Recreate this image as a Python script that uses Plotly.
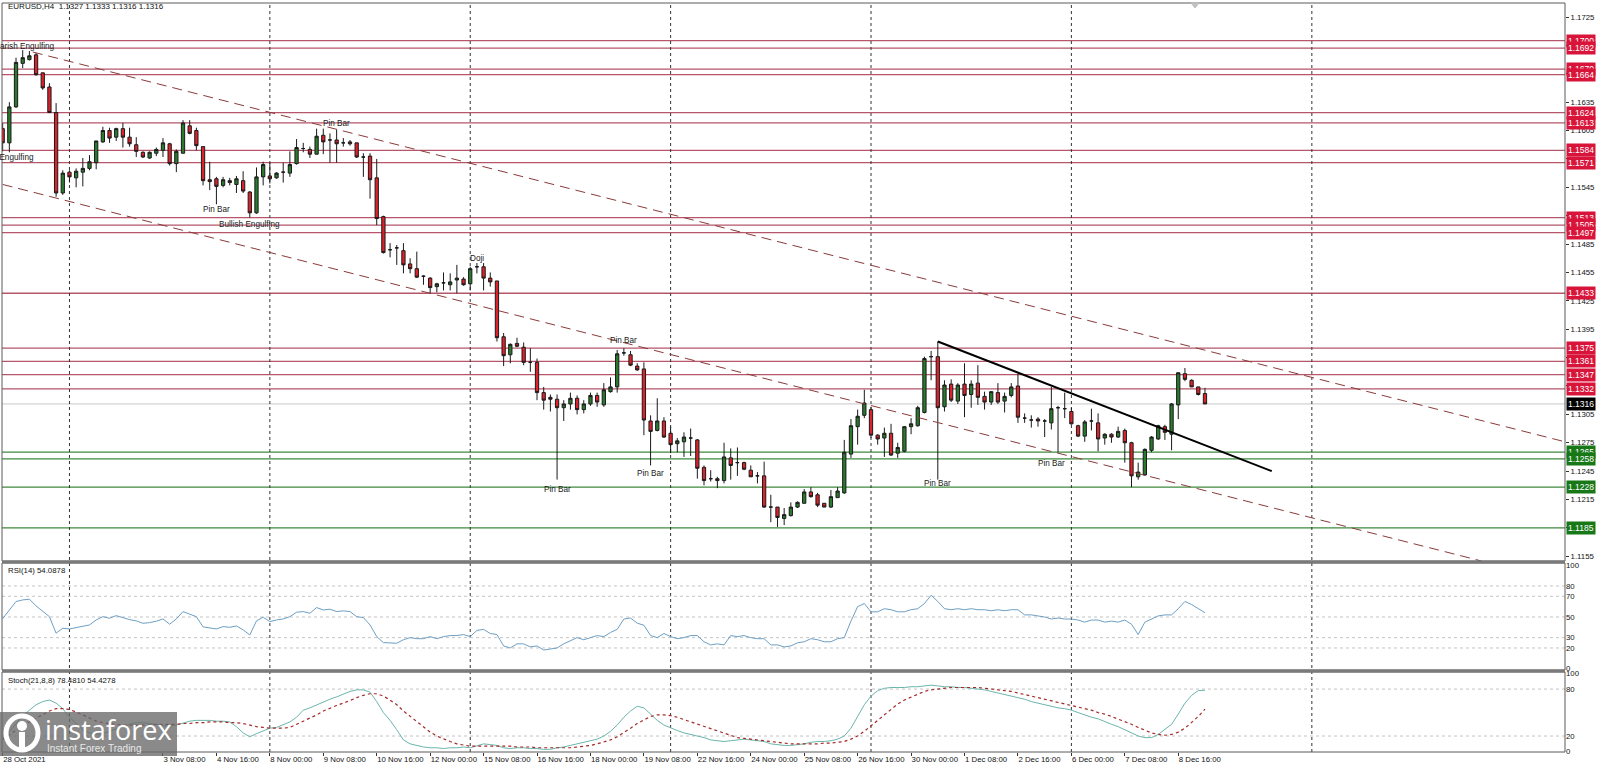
import plotly.graph_objects as go

# ---------------- DATA ----------------
opens = [
1.1607,1.1592,1.1630,1.1676,1.1680,1.1685,1.1666,1.1651,1.1624,1.1539,
1.1561,1.1555,1.1561,1.1565,1.1571,1.1593,1.1605,1.1598,1.1607,1.1598,
1.1590,1.1582,1.1576,1.1581,1.1584,1.1591,1.1570,1.1581,1.1610,1.1605,
1.1588,1.1553,1.1554,1.1547,1.1552,1.1548,1.1552,1.1540,1.1518,1.1556,
1.1557,1.1555,1.1561,1.1560,1.1570,1.1586,1.1585,1.1580,1.1600,1.1595,
1.1595,1.1592,1.1593,1.1592,1.1577,1.1578,1.1555,1.1514,1.1479,1.1481,
1.1478,1.1464,1.1459,1.1451,1.1449,1.1440,1.1444,1.1442,1.1447,1.1448,
1.1443,1.1461,1.1461,1.1449,1.1446,1.1387,1.1368,1.1380,1.1376,1.1360,
1.1360,1.1328,1.1323,1.1321,1.1312,1.1316,1.1322,1.1310,1.1316,1.1325,
1.1315,1.1329,1.1334,1.1370,1.1368,1.1356,1.1353,1.1298,1.1288,1.1298,
1.1285,1.1274,1.1276,1.1280,1.1278,1.1249,1.1237,1.1237,1.1235,1.1259,
1.1254,1.1254,1.1246,1.1240,1.1240,1.1207,1.1207,1.1195,1.1198,1.1207,
1.1211,1.1223,1.1220,1.1211,1.1207,1.1217,1.1222,1.1263,1.1292,1.1304,
1.1310,1.1283,1.1280,1.1285,1.1264,1.1266,1.1292,1.1293,1.1307,1.1366,
1.1366,1.1313,1.1337,1.1319,1.1337,1.1326,1.1338,1.1324,1.1318,1.1328,
1.1319,1.1325,1.1335,1.1301,1.1299,1.1300,1.1298,1.1296,1.1312,1.1311,
1.1308,1.1293,1.1282,1.1298,1.1296,1.1280,1.1284,1.1281,1.1288,1.1275,
1.1239,1.1241,1.1267,1.1279,1.1292,1.1284,1.1315,1.1348,1.1341,1.1334,
1.1327]
highs = [
1.1613,1.1635,1.1682,1.1690,1.1689,1.1687,1.1666,1.1655,1.1634,1.1563,
1.1563,1.1565,1.1576,1.1579,1.1594,1.1609,1.1608,1.1608,1.1613,1.1608,
1.1598,1.1583,1.1583,1.1587,1.1597,1.1592,1.1585,1.1616,1.1616,1.1608,
1.1588,1.1572,1.1556,1.1556,1.1555,1.1557,1.1562,1.1541,1.1566,1.1572,
1.1571,1.1561,1.1571,1.1583,1.1596,1.1592,1.1588,1.1607,1.1607,1.1602,
1.1606,1.1597,1.1595,1.1592,1.1581,1.1581,1.1575,1.1515,1.1486,1.1484,
1.1486,1.1470,1.1477,1.1452,1.1450,1.1444,1.1455,1.1454,1.1463,1.1450,
1.1461,1.1465,1.1465,1.1455,1.1446,1.1391,1.1380,1.1386,1.1381,1.1375,
1.1364,1.1334,1.1326,1.1326,1.1320,1.1328,1.1325,1.1320,1.1328,1.1328,
1.1338,1.1344,1.1373,1.1375,1.1372,1.1359,1.1360,1.1304,1.1322,1.1302,
1.1292,1.1280,1.1286,1.1290,1.1279,1.1251,1.1246,1.1239,1.1275,1.1269,
1.1270,1.1255,1.1251,1.1244,1.1255,1.1220,1.1207,1.1206,1.1212,1.1213,
1.1226,1.1228,1.1222,1.1211,1.1225,1.1228,1.1278,1.1300,1.1310,1.1331,
1.1313,1.1284,1.1291,1.1295,1.1275,1.1292,1.1301,1.1314,1.1366,1.1372,
1.1382,1.1341,1.1342,1.1338,1.1359,1.1341,1.1357,1.1329,1.1329,1.1338,
1.1328,1.1338,1.1348,1.1306,1.1304,1.1302,1.1300,1.1334,1.1314,1.1328,
1.1312,1.1294,1.1299,1.1311,1.1306,1.1285,1.1285,1.1292,1.1290,1.1276,
1.1254,1.1269,1.1282,1.1294,1.1294,1.1317,1.1349,1.1354,1.1342,1.1334,
1.1333]
lows = [
1.1583,1.1582,1.1629,1.1671,1.1679,1.1663,1.1648,1.1624,1.1535,1.1537,
1.1550,1.1545,1.1546,1.1563,1.1564,1.1592,1.1592,1.1594,1.1587,1.1588,
1.1577,1.1576,1.1575,1.1578,1.1577,1.1568,1.1561,1.1581,1.1601,1.1584,
1.1547,1.1542,1.1527,1.1545,1.1547,1.1539,1.1539,1.1513,1.1517,1.1547,
1.1549,1.1554,1.1550,1.1556,1.1569,1.1582,1.1576,1.1580,1.1580,1.1571,
1.1571,1.1588,1.1589,1.1576,1.1556,1.1533,1.1505,1.1475,1.1471,1.1463,
1.1454,1.1454,1.1449,1.1442,1.1433,1.1434,1.1436,1.1436,1.1433,1.1441,
1.1436,1.1454,1.1436,1.1440,1.1382,1.1356,1.1359,1.1376,1.1357,1.1350,
1.1320,1.1310,1.1308,1.1236,1.1298,1.1310,1.1305,1.1306,1.1314,1.1313,
1.1313,1.1328,1.1328,1.1367,1.1356,1.1351,1.1283,1.1251,1.1287,1.1280,
1.1264,1.1265,1.1260,1.1261,1.1237,1.1230,1.1234,1.1227,1.1232,1.1236,
1.1240,1.1246,1.1239,1.1232,1.1206,1.1191,1.1186,1.1188,1.1197,1.1206,
1.1211,1.1217,1.1207,1.1207,1.1206,1.1217,1.1221,1.1259,1.1273,1.1301,
1.1280,1.1273,1.1260,1.1261,1.1259,1.1265,1.1284,1.1292,1.1306,1.1341,
1.1236,1.1308,1.1318,1.1316,1.1302,1.1312,1.1315,1.1310,1.1315,1.1316,
1.1307,1.1323,1.1296,1.1296,1.1291,1.1292,1.1281,1.1289,1.1265,1.1301,
1.1294,1.1281,1.1276,1.1288,1.1266,1.1273,1.1275,1.1280,1.1254,1.1228,
1.1236,1.1240,1.1265,1.1278,1.1278,1.1267,1.1300,1.1340,1.1334,1.1325,
1.1316]
closes = [
1.1592,1.1630,1.1677,1.1682,1.1684,1.1664,1.1650,1.1624,1.1539,1.1560,
1.1556,1.1562,1.1565,1.1572,1.1594,1.1605,1.1597,1.1607,1.1598,1.1591,
1.1583,1.1577,1.1582,1.1585,1.1592,1.1570,1.1583,1.1613,1.1602,1.1589,
1.1552,1.1551,1.1546,1.1553,1.1550,1.1554,1.1541,1.1518,1.1556,1.1569,
1.1554,1.1560,1.1561,1.1569,1.1587,1.1586,1.1580,1.1599,1.1593,1.1595,
1.1591,1.1592,1.1591,1.1577,1.1577,1.1553,1.1512,1.1476,1.1479,1.1481,
1.1463,1.1459,1.1450,1.1451,1.1439,1.1443,1.1444,1.1445,1.1449,1.1442,
1.1459,1.1461,1.1449,1.1445,1.1386,1.1367,1.1379,1.1377,1.1360,1.1360,
1.1328,1.1320,1.1321,1.1312,1.1316,1.1322,1.1310,1.1316,1.1325,1.1318,
1.1331,1.1334,1.1369,1.1370,1.1357,1.1352,1.1299,1.1287,1.1298,1.1281,
1.1273,1.1277,1.1281,1.1280,1.1248,1.1235,1.1237,1.1235,1.1260,1.1251,
1.1254,1.1247,1.1239,1.1240,1.1207,1.1207,1.1196,1.1199,1.1207,1.1212,
1.1223,1.1218,1.1209,1.1207,1.1218,1.1224,1.1265,1.1293,1.1303,1.1317,
1.1283,1.1279,1.1285,1.1262,1.1270,1.1292,1.1295,1.1312,1.1364,1.1366,
1.1312,1.1336,1.1320,1.1336,1.1325,1.1337,1.1323,1.1318,1.1329,1.1318,
1.1324,1.1334,1.1302,1.1301,1.1299,1.1298,1.1298,1.1311,1.1312,1.1311,
1.1295,1.1282,1.1297,1.1298,1.1279,1.1284,1.1281,1.1287,1.1275,1.1240,
1.1244,1.1268,1.1281,1.1293,1.1286,1.1316,1.1349,1.1342,1.1334,1.1326,
1.1316]

rsi = [
48.4,56.8,64.9,66.5,67.2,60.7,55.9,50.3,34.3,39.1,
38.4,39.7,40.7,42.3,47.1,50.3,48.8,51.3,49.4,47.4,
46.2,43.9,44.5,45.9,48.1,43.0,48.1,55.2,52.7,50.3,
40.4,39.7,38.4,40.7,40.0,41.3,37.5,32.6,46.2,49.8,
45.5,47.1,48.1,50.3,54.6,55.2,53.6,59.1,56.8,57.5,
55.2,55.9,55.2,50.3,49.4,42.3,31.0,25.2,25.2,24.6,
28,30,29,29,31,29,31,32,32,33,
31,37,38,34,33,22,20,24,24,21,
22,18,19,20,24,27,30,28,30,32,
31,35,38,48,49,44,42,32,30,34,
31,29,30,32,32,26,23,24,23,32,
31,32,30,29,29,23,23,21,22,25,
26,29,28,26,26,29,30,46,60,63,
55,55,58,57,55,55,57,58,63,71,
65,58,57,58,57,58,57,57,56,57,
56,57,57,52,52,51,50,48,49,48,
48,47,45,47,47,45,46,45,47,43,
33,45,48,51,52,52,58,65,62,58,
54.1]
stoch_k = [
15,25,36,46,53,60,64,66,62,55,
44,36,28,24,22,23,26,30,33,35,
37,37,36,35,33,33,34,37,39,40,
40,40,39,39,38,32,24,19,23,27,
30,31,34,38,44,53,56,60,64,67,
70,74,77,79,79,76,64,50,40,28,
15,10,8,6,5,5,4,5,5,6,
5,8,10,9,8,5,4,5,5,4,
4,3,3,5,6,8,10,12,14,16,
20,26,34,44,52,58,56,48,40,34,
30,27,24,22,20,18,15,14,13,14,
15,16,15,14,13,10,9,8,8,9,
10,12,13,13,14,16,20,30,45,60,
71,78,81,82,82,82,83,83,84,85,
84,83,83,82,82,81,80,79,77,75,
73,71,69,67,64,62,60,58,56,55,
53,50,47,44,42,38,35,32,28,24,
20,18,18,22,28,35,48,62,72,78,
78.5]
stoch_d = [
16,22,28,33,38,43,48,52,55,55,
54,51,47,43,39,37,36,35,34,34,
34,34,34,35,35,35,35,36,36,37,
37,38,38,38,37,37,36,34,32,31,
30,30,30,31,35,38,42,47,52,56,
59,62,66,69,72,74,74,71,66,60,
52,45,38,31,25,20,16,13,10,8,
7,7,7,7,7,7,7,6,6,6,
5,5,5,5,5,5,6,7,8,10,
12,15,19,24,30,36,41,45,47,47,
46,44,41,38,35,32,29,26,23,20,
18,17,16,15,14,13,12,11,10,10,
10,10,10,11,11,12,13,16,20,26,
33,41,48,55,61,66,70,74,77,79,
80,81,82,82,82,82,82,81,80,79,
78,77,75,73,71,69,67,65,63,61,
59,57,55,53,50,48,45,42,39,35,
31,27,24,22,21,22,25,30,38,45,
54.4]

time_tick_bars = [0, 24, 32, 40, 48, 56, 64, 72, 80, 88, 96, 104, 112, 120, 128,
                  136, 144, 152, 160, 168, 176]
time_tick_labels = ["28 Oct 2021", "3 Nov 08:00", "4 Nov 16:00", "8 Nov 00:00", "9 Nov 08:00",
                    "10 Nov 16:00", "12 Nov 00:00", "15 Nov 08:00", "16 Nov 16:00", "18 Nov 00:00",
                    "19 Nov 08:00", "22 Nov 16:00", "24 Nov 00:00", "25 Nov 08:00", "26 Nov 16:00",
                    "30 Nov 00:00", "1 Dec 08:00", "2 Dec 16:00", "6 Dec 00:00", "7 Dec 08:00",
                    "8 Dec 16:00"]
week_grid_bars = [10, 40, 70, 100, 130, 160, 196]

price_ticks = [1.1155, 1.1185, 1.1215, 1.1245, 1.1275, 1.1305, 1.1335, 1.1365, 1.1395, 1.1425,
               1.1455, 1.1485, 1.1515, 1.1545, 1.1575, 1.1605, 1.1635, 1.1665, 1.1695, 1.1725]
resistance_levels = [1.1700, 1.1692, 1.1670, 1.1664, 1.1624, 1.1613, 1.1584, 1.1571,
                     1.1513, 1.1505, 1.1497, 1.1433, 1.1375, 1.1361, 1.1347, 1.1332]
support_levels = [1.1265, 1.1258, 1.1228, 1.1185]
current_price = 1.1316

upper_channel_bars = [4.5, 233.9]
upper_channel_prices = [1.1688, 1.1276]
lower_channel_bars = [0, 221.4]
lower_channel_prices = [1.1548, 1.1150]
trend_bars = [140, 190]
trend_prices = [1.1382, 1.1245]

pattern_labels = ["Bearish Engulfing", "Bullish Engulfing", "Pin Bar", "Bullish Engulfing",
                  "Pin Bar", "Doji", "Pin Bar", "Pin Bar", "Pin Bar", "Pin Bar", "Pin Bar"]
pattern_bars = [8.1, 5.0, 32, 37, 50, 71, 93, 83.1, 97, 140, 157]
pattern_prices = [1.1694, 1.1577, 1.1522, 1.1506, 1.1612, 1.1470, 1.1383, 1.1226, 1.1243, 1.1232, 1.1253]
pattern_anchor = ["right", "right", "center", "center", "center", "center", "center",
                  "center", "center", "center", "center"]

rsi_levels = [80, 70, 50, 30, 20]
stoch_levels = [80, 20]

# ---------------- FIGURE ----------------
FONT = "Liberation Sans"
W, H = 1599, 770
ML, MR, MT, MB = 2, 34, 3, 18
PH = H - MT - MB

def py(ypx):
    return (H - MB - ypx) / PH

def px(xpx):
    return (xpx - ML) / (W - ML - MR)

n = len(closes)
xs = list(range(n))

fig = go.Figure()

fig.add_trace(go.Candlestick(
    x=xs, open=opens, high=highs, low=lows, close=closes,
    increasing=dict(line=dict(color="#1a1a1a", width=1), fillcolor="#2a7a2e"),
    decreasing=dict(line=dict(color="#1a1a1a", width=1), fillcolor="#dc222c"),
    whiskerwidth=0, xaxis="x", yaxis="y", hoverinfo="skip", showlegend=False))

fig.add_trace(go.Scatter(x=upper_channel_bars, y=upper_channel_prices, mode="lines",
                         line=dict(color="#8b3a3a", width=1, dash="10px,6px"),
                         xaxis="x", yaxis="y", showlegend=False, hoverinfo="skip"))
fig.add_trace(go.Scatter(x=lower_channel_bars, y=lower_channel_prices, mode="lines",
                         line=dict(color="#8b3a3a", width=1, dash="10px,6px"),
                         xaxis="x", yaxis="y", showlegend=False, hoverinfo="skip"))
fig.add_trace(go.Scatter(x=trend_bars, y=trend_prices, mode="lines",
                         line=dict(color="#000000", width=2),
                         xaxis="x", yaxis="y", showlegend=False, hoverinfo="skip"))

fig.add_trace(go.Scatter(x=xs, y=rsi, mode="lines", line=dict(color="#6e9fc4", width=1),
                         xaxis="x", yaxis="y2", showlegend=False, hoverinfo="skip"))
fig.add_trace(go.Scatter(x=xs, y=stoch_k, mode="lines", line=dict(color="#6bb5ad", width=1),
                         xaxis="x", yaxis="y3", showlegend=False, hoverinfo="skip"))
fig.add_trace(go.Scatter(x=xs, y=stoch_d, mode="lines", line=dict(color="#a52a2a", width=1.2, dash="dot"),
                         xaxis="x", yaxis="y3", showlegend=False, hoverinfo="skip"))

shapes = []
annotations = []

for lv in resistance_levels:
    shapes.append(dict(type="line", xref="paper", x0=0, x1=1, yref="y", y0=lv, y1=lv,
                       line=dict(color="#b5566a", width=1.3), layer="below"))
for lv in support_levels:
    shapes.append(dict(type="line", xref="paper", x0=0, x1=1, yref="y", y0=lv, y1=lv,
                       line=dict(color="#3f8a3f", width=1.2), layer="below"))
shapes.append(dict(type="line", xref="paper", x0=0, x1=1, yref="y", y0=current_price, y1=current_price,
                   line=dict(color="#c8c8c8", width=1), layer="below"))

for b in week_grid_bars:
    shapes.append(dict(type="line", xref="x", x0=b, x1=b, yref="paper", y0=0, y1=1,
                       line=dict(color="#333333", width=1, dash="dot"), layer="below"))

for lv in rsi_levels:
    shapes.append(dict(type="line", xref="paper", x0=0, x1=1, yref="y2", y0=lv, y1=lv,
                       line=dict(color="#c4c4c4", width=1, dash="dot"), layer="below"))
for lv in stoch_levels:
    shapes.append(dict(type="line", xref="paper", x0=0, x1=1, yref="y3", y0=lv, y1=lv,
                       line=dict(color="#c4c4c4", width=1, dash="dot"), layer="below"))

d_price = [py(561), 1.0]
d_rsi = [py(670), py(563)]
d_sto = [0.0, py(672)]
for d in (d_price, d_rsi, d_sto):
    shapes.append(dict(type="rect", xref="paper", yref="paper", x0=0, x1=1, y0=d[0], y1=d[1],
                       line=dict(color="#5a5a5a", width=1), fillcolor="rgba(0,0,0,0)"))
for ysep in (py(562), py(671)):
    shapes.append(dict(type="line", xref="paper", yref="paper", x0=0, x1=1, y0=ysep, y1=ysep,
                       line=dict(color="#7a7a7a", width=3)))

for lv in resistance_levels:
    annotations.append(dict(xref="paper", x=1, xanchor="left", xshift=1, yref="y", y=lv,
                            text=f"{lv:.4f}", showarrow=False, bgcolor="#d8143a",
                            font=dict(color="white", size=8.5, family=FONT), borderpad=1))
for lv in support_levels:
    annotations.append(dict(xref="paper", x=1, xanchor="left", xshift=1, yref="y", y=lv,
                            text=f"{lv:.4f}", showarrow=False, bgcolor="#187818",
                            font=dict(color="white", size=8.5, family=FONT), borderpad=1))
annotations.append(dict(xref="paper", x=1, xanchor="left", xshift=1, yref="y", y=current_price,
                        text=f"{current_price:.4f}", showarrow=False, bgcolor="#000000",
                        font=dict(color="white", size=8.5, family=FONT), borderpad=1))

for t, b, p, a in zip(pattern_labels, pattern_bars, pattern_prices, pattern_anchor):
    annotations.append(dict(xref="x", yref="y", x=b, y=p, text=t, showarrow=False,
                            xanchor=a, font=dict(color="#222222", size=8.2, family=FONT)))

annotations.append(dict(xref="paper", yref="paper", x=px(6), y=py(7), xanchor="left", yanchor="middle",
                        text="EURUSD,H4  1.1327 1.1333 1.1316 1.1316", showarrow=False,
                        font=dict(color="#111111", size=8, family=FONT)))
annotations.append(dict(xref="paper", yref="paper", x=px(6), y=py(570), xanchor="left", yanchor="middle",
                        text="RSI(14) 54.0878", showarrow=False,
                        font=dict(color="#111111", size=7.8, family=FONT)))
annotations.append(dict(xref="paper", yref="paper", x=px(6), y=py(680), xanchor="left", yanchor="middle",
                        text="Stoch(21,8,8) 78.4810 54.4278", showarrow=False,
                        font=dict(color="#111111", size=7.8, family=FONT)))

shapes.append(dict(type="path", xref="paper", yref="paper",
                   path=f"M {px(1191)} {py(3)} L {px(1199)} {py(3)} L {px(1195)} {py(8)} Z",
                   fillcolor="#c0c0c0", line=dict(color="#c0c0c0", width=1)))

# watermark
shapes.append(dict(type="rect", xref="paper", yref="paper", x0=px(-2), x1=px(177), y0=py(756), y1=py(712),
                   fillcolor="rgba(105,105,105,0.78)", line=dict(width=0)))
shapes.append(dict(type="circle", xref="paper", yref="paper", x0=px(6), x1=px(38), y0=py(750), y1=py(716),
                   fillcolor="rgba(0,0,0,0)", line=dict(color="white", width=5)))
shapes.append(dict(type="circle", xref="paper", yref="paper", x0=px(17), x1=px(27), y0=py(731), y1=py(721),
                   fillcolor="white", line=dict(width=0)))
shapes.append(dict(type="rect", xref="paper", yref="paper", x0=px(19), x1=px(25), y0=py(750), y1=py(732),
                   fillcolor="white", line=dict(width=0)))
annotations.append(dict(xref="paper", yref="paper", x=px(43), y=py(729), xanchor="left", yanchor="middle",
                        text="instaforex", showarrow=False,
                        font=dict(color="white", size=27, family="Open Sans")))
annotations.append(dict(xref="paper", yref="paper", x=px(45), y=py(748), xanchor="left", yanchor="middle",
                        text="Instant Forex Trading", showarrow=False,
                        font=dict(color="#e8e8e8", size=10, family=FONT)))

fig.update_layout(
    width=W, height=H, margin=dict(l=ML, r=MR, t=MT, b=MB, autoexpand=False),
    paper_bgcolor="white", plot_bgcolor="white", showlegend=False,
    shapes=shapes, annotations=annotations,
    xaxis=dict(range=[-0.1, 233.9], anchor="y3", showgrid=False, zeroline=False, automargin=False,
               tickvals=time_tick_bars, ticktext=time_tick_labels, ticks="outside", ticklen=3,
               tickcolor="#333", ticklabelposition="outside right", tickangle=0,
               tickfont=dict(size=7.8, family=FONT, color="#111"), rangeslider=dict(visible=False),
               showline=False),
    yaxis=dict(domain=d_price, range=[1.11500, 1.17398], side="right", anchor="x", automargin=False,
               tickvals=price_ticks, ticktext=[f"{v:.4f}" for v in price_ticks],
               ticks="outside", ticklen=3, tickcolor="#333", showgrid=False, zeroline=False,
               tickfont=dict(size=7.8, family=FONT, color="#111")),
    yaxis2=dict(domain=d_rsi, range=[-1.3, 102.2], side="right", anchor="x", automargin=False,
                tickvals=[0, 20, 30, 50, 70, 80, 100], ticks="", showgrid=False, zeroline=False,
                tickfont=dict(size=7.8, family=FONT, color="#111")),
    yaxis3=dict(domain=d_sto, range=[-0.4, 101.8], side="right", anchor="x", automargin=False,
                tickvals=[0, 20, 80, 100], ticks="", showgrid=False, zeroline=False,
                tickfont=dict(size=7.8, family=FONT, color="#111")),
)

fit_script = (
    "document.documentElement.style.margin='0';document.body.style.margin='0';"
    "document.body.style.overflow='hidden';"
)
fig.write_html("out.html", config={"displayModeBar": False}, post_script=fit_script)
